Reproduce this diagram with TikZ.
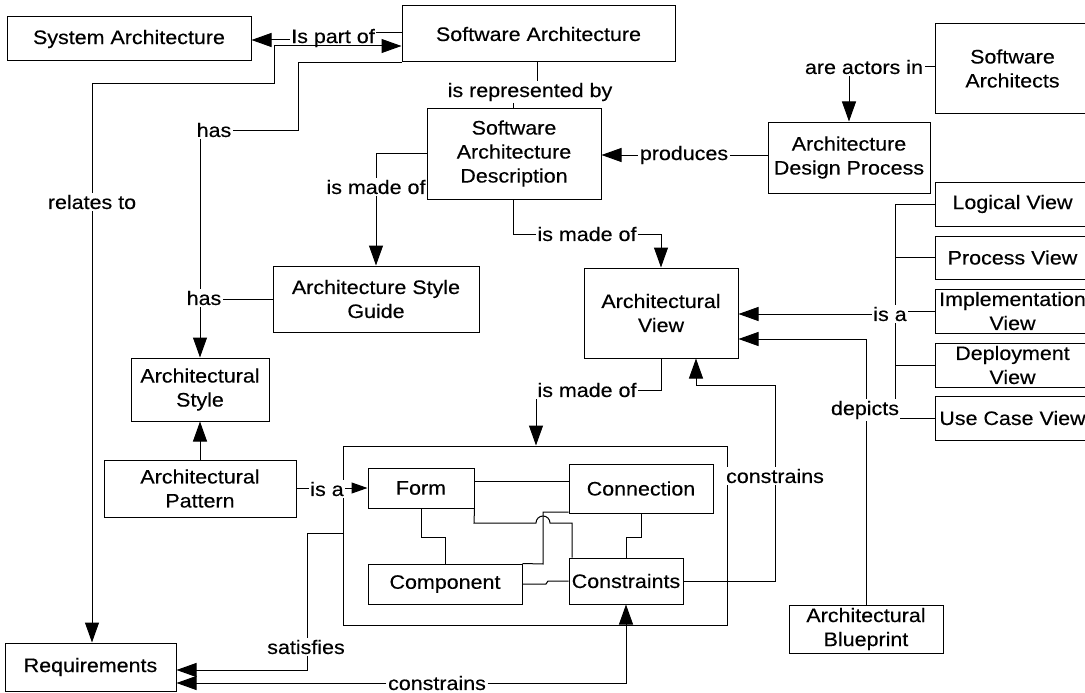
\documentclass[tikz,border=0pt]{standalone}
\usepackage{fontspec}
\setmainfont{Liberation Sans}[FakeStretch=1.1,FakeBold=0.3]
\usetikzlibrary{arrows.meta,backgrounds}
\newcommand\dfont{\fontsize{19.5}{24}\selectfont}
\begin{document}
\begin{tikzpicture}[x=1pt,y=-1pt,
  box/.style={draw, line width=1pt, fill=white, inner sep=0pt, align=center, font=\dfont},
  lbl/.style={fill=white, inner sep=1.5pt, font=\dfont},
  link/.style={line width=1pt},
  arr/.style={link, -{Triangle[length=20pt,width=14pt]}},
  arrs/.style={link, -{Triangle[length=16pt,width=11pt]}}]
\useasboundingbox (0,0) rectangle (1085,693);
\begin{scope}[on background layer]
\fill[white] (0,0) rectangle (1085,693);
\end{scope}
% boxes
\node[box, minimum width=244pt, minimum height=44pt] (sysarch) at (129,39) {System Architecture};
\node[box, minimum width=273pt, minimum height=56pt] (sa) at (538.5,34) {Software Architecture};
\node[box, minimum width=155pt, minimum height=89pt] (sarch) at (1012.5,68.5) {Software\\Architects};
\node[box, minimum width=162pt, minimum height=71pt] (adp) at (849,157.5) {Architecture\\Design Process};
\node[box, minimum width=174pt, minimum height=91pt] (sad) at (514,153.5) {Software\\Architecture\\Description};
\node[box, minimum width=206pt, minimum height=66pt] (asg) at (376,299) {Architecture Style\\Guide};
\node[box, minimum width=138pt, minimum height=63pt] (archstyle) at (200,389.5) {Architectural\\Style};
\node[box, minimum width=192pt, minimum height=57pt] (apat) at (200,488.5) {Architectural\\Pattern};
\node[box, minimum width=154pt, minimum height=90pt] (av) at (661,313) {Architectural\\View};
\node[box, minimum width=155pt, minimum height=44pt] (logical) at (1012.5,204) {Logical View};
\node[box, minimum width=155pt, minimum height=43pt] (process) at (1012.5,257.5) {Process View};
\node[box, minimum width=155pt, minimum height=44pt] (impl) at (1012.5,311) {Implementation\\View};
\node[box, minimum width=155pt, minimum height=44pt] (deploy) at (1012.5,365) {Deployment\\View};
\node[box, minimum width=155pt, minimum height=44pt] (usecase) at (1012.5,418) {Use Case View};
\node[box, minimum width=154pt, minimum height=48pt] (bp) at (866,629) {Architectural\\Blueprint};
\node[box, minimum width=171pt, minimum height=48pt] (req) at (90.5,667) {Requirements};
\node[draw, line width=1pt, inner sep=0pt, minimum width=384pt, minimum height=179pt] (cont) at (535,535.5) {};
\node[box, minimum width=106pt, minimum height=40pt] (form) at (421,488) {Form};
\node[box, minimum width=144pt, minimum height=49pt] (conn) at (641,488.5) {Connection};
\node[box, minimum width=154pt, minimum height=40pt] (comp) at (445,584) {Component};
\node[box, minimum width=114pt, minimum height=46pt] (cstr) at (626,581) {Constraints};
% labels
\node[lbl, fill=none] (ipo) at (333,38) {Is part of};
\node[lbl] (rel) at (92,202) {relates to};
\node[lbl] (has1) at (214,130) {has};
\node[lbl] (has2) at (204,298) {has};
\node[lbl] (irb) at (530,92) {is represented by};
\node[lbl] (imo1) at (376,187) {is made of};
\node[lbl] (prod) at (684,155) {produces};
\node[lbl] (aai) at (864,67) {are actors in};
\node[lbl] (imo2) at (587,234) {is made of};
\node[lbl] (imo3) at (587,390) {is made of};
\node[lbl] (isa1) at (327,489) {is a};
\node[lbl] (sat) at (306,647) {satisfies};
\node[lbl] (con1) at (437,683) {constrains};
\node[lbl] (con2) at (775,476) {constrains};
\node[lbl] (dep) at (865,410) {depicts};
\node[lbl] (isa2) at (890,314) {is a};
% connectors
\begin{scope}[on background layer]
\draw[link] (sa.west |- 0,33) -- (ipo.east |- 0,33);
\draw[arr] (ipo.west |- 0,40) -- (sysarch.east |- 0,40);
\draw[arr] (rel.north) |- (274,84) -- (274,46) -- (sa.west |- 0,46);
\draw[arr] (rel.south) -- (rel.south |- req.north);
\draw[link] (sa.south west) -| (298,130) -- (has1.east |- 0,130);
\draw[arr] (has1.south -| archstyle.north) -- (archstyle.north);
\draw[link] (asg.west) -- (has2.east |- asg.west);
\draw[link] (sa.south -| 537,0) -- (irb.north -| 537,0);
\draw[link] (irb.south -| 513,0) -- (sad.north -| 513,0);
\draw[arr] (sad.west) -| (asg.north);
\draw[link] (adp.west |- prod.east) -- (prod.east);
\draw[arr] (prod.west) -- (sad.east |- prod.west);
\draw[link] (sarch.west |- aai.east) -- (aai.east);
\draw[arr] (aai.south -| 849,0) -- (adp.north -| 849,0);
\draw[link] (sad.south -| 513,0) |- (imo2.west);
\draw[arr] (imo2.east) -| (av.north);
\draw[link] (av.south) |- (imo3.east);
\draw[arr] (imo3.south -| 536,0) -- (cont.north -| 536,0);
\draw[link] (apat.east) -- (isa1.west |- apat.east);
\draw[arrs] (isa1.east |- form.west) -- (form.west);
\draw[arr] (apat.north) -- (archstyle.south);
\draw[arr] (cont.west |- 0,533) -- (307,533) -- (307,670) -- (req.east |- 0,670);
\draw[arr] (con1.west) -- (req.east |- con1.west);
\draw[arr] (con1.east) -| (cstr.south);
\draw[arr] (cstr.east) -| (775,385) -| (av.south -| 696,0);
\draw[arr] (bp.north) -- (866,339) -- (av.east |- 0,339);
\draw[link] (logical.west) -| (895,418) -- (usecase.west);
\draw[link] (process.west) -- (process.west -| 895,0);
\draw[link] (deploy.west) -- (deploy.west -| 895,0);
\draw[link] (impl.west) -- (isa2.east |- impl.west);
\draw[arr] (isa2.west) -- (av.east |- isa2.west);
% inner
\draw[link] (form.east |- 0,481) -- (conn.west |- 0,481);
\draw[link] (form.south) -- (421,537) -| (comp.north);
\draw[link] (conn.south) -- (641,537) -| (cstr.north);
\draw[link] (comp.north east) -- (543,564) -- (543,512) -- (conn.west |- 0,512);
\draw[link] (form.south east) -- (474,523) -- (536,523) arc[start angle=180, end angle=0, radius=7pt] -- (572,523) -- (cstr.north west -| 572,0);
\draw[link] (comp.east |- 0,584) -- (546,584) -- (548,581) -- (cstr.west);
\end{scope}
\end{tikzpicture}
\end{document}
